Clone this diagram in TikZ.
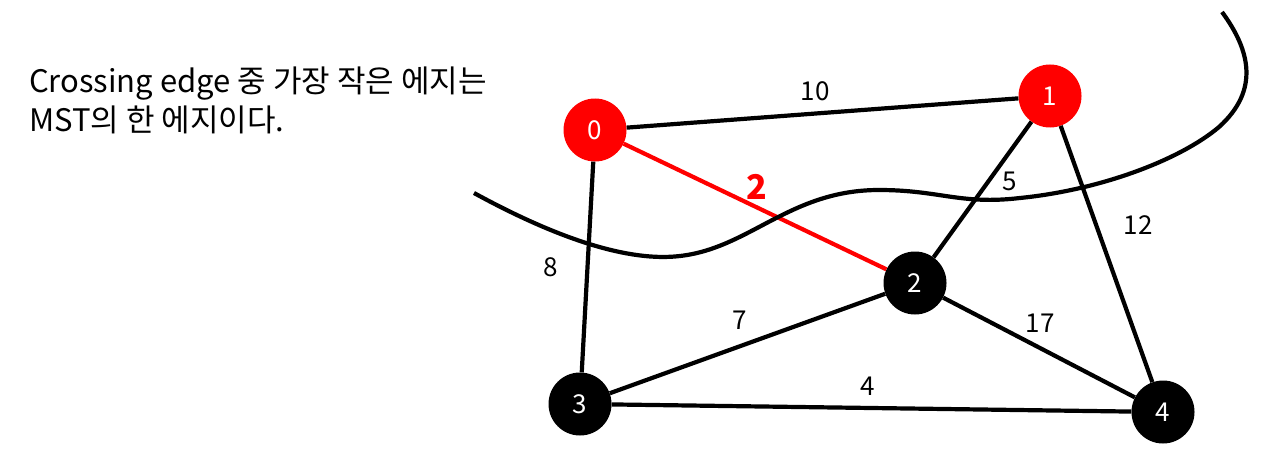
\documentclass[tikz,border=0pt]{standalone}
\usepackage{fontspec}
\setmainfont{Noto Sans CJK KR}
\begin{document}
\begin{tikzpicture}[x=1pt,y=-1pt,
  vred/.style={circle,fill=red,minimum size=63pt,inner sep=0pt,text=white,font=\fontsize{26}{28}\selectfont},
  vblk/.style={circle,fill=black,minimum size=63pt,inner sep=0pt,text=white,font=\fontsize{26}{28}\selectfont},
  edge/.style={line width=4.2pt},
  wlabel/.style={font=\fontsize{26}{28}\selectfont,inner sep=0pt}]
\useasboundingbox (0,0) rectangle (1273,476);
\node[anchor=north west,align=left,inner sep=0pt,font=\fontsize{31}{39}\selectfont] (txt) at (29,67) {Crossing edge 중 가장 작은 에지는\\MST의 한 에지이다.};
\node[vred] (v0) at (595,130) {0};
\node[vred] (v1) at (1050,96) {1};
\node[vblk] (v2) at (915,283) {2};
\node[vblk] (v3) at (580,404) {3};
\node[vblk] (v4) at (1163,412) {4};
\draw[edge] (v0) -- (v1);
\draw[edge,red] (v0) -- (v2);
\draw[edge] (v0) -- (v3);
\draw[edge] (v1) -- (v2);
\draw[edge] (v1) -- (v4);
\draw[edge] (v2) -- (v3);
\draw[edge] (v2) -- (v4);
\draw[edge] (v3) -- (v4);
\node[wlabel] (l10) at (815,91) {10};
\node[wlabel,text=red,font=\fontsize{34}{36}\selectfont\bfseries] (l2) at (757,187) {2};
\node[wlabel] (l5) at (1010,181) {5};
\node[wlabel] (l12) at (1138,225) {12};
\node[wlabel] (l8) at (551,267) {8};
\node[wlabel] (l7) at (740,320) {7};
\node[wlabel] (l17) at (1040,323) {17};
\node[wlabel] (l4) at (868,386) {4};
\coordinate (c0) at (474,193);
\coordinate (c1) at (680,256);
\coordinate (c2) at (879,190);
\coordinate (c3) at (1020,198);
\coordinate (c4) at (1219,127);
\coordinate (c5) at (1222,12);
\draw[line width=4.2pt]
  (c0) .. controls (560,240) and (630,262) .. (c1)
       .. controls (750,248) and (790,190) .. (c2)
       .. controls (940,190) and (960,205) .. (c3)
       .. controls (1100,190) and (1180,160) .. (c4)
       .. controls (1260,90) and (1250,50) .. (c5);
\end{tikzpicture}
\end{document}
